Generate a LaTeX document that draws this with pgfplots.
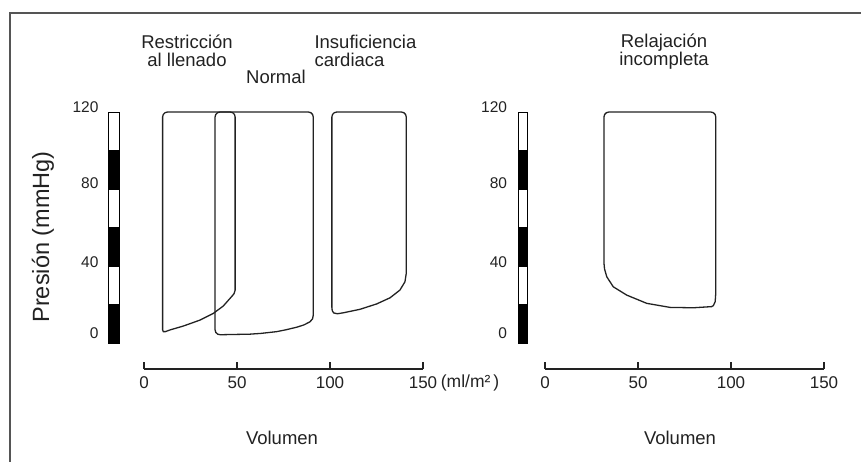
\documentclass[border=0pt]{standalone}
\usepackage{fontspec}
\setmainfont{Liberation Sans}
\usepackage{pgfplots}
\pgfplotsset{compat=1.18}

\definecolor{ink}{HTML}{222222}
\definecolor{framec}{HTML}{555555}

\pgfplotsset{
  pvaxis/.style={
    scale only axis, width=279pt, height=257pt,
    xmin=0, xmax=150, ymin=-13.5, ymax=120,
    axis x line*=bottom, axis y line=none,
    x axis line style={-, draw=ink, line width=1.2pt},
    xtick={0,50,100,150}, ytick=\empty,
    tick align=inside, major tick length=7pt,
    tick style={draw=ink, line width=1.2pt},
    xticklabel style={font=\fontsize{17}{17}\selectfont, text=ink, yshift=-4pt},
    /pgf/number format/assume math mode=true,
    clip=false, anchor=south west,
  },
  pvloop/.style={draw=ink, line width=1.3pt, no markers, sharp plot},
  seg/.style={draw=black, line width=0.8pt, no markers, sharp plot},
}
\tikzset{ylab/.style={anchor=east, font=\fontsize{15.5}{15}\selectfont, text=ink}}

\begin{document}
\begin{tikzpicture}[x=1pt,y=1pt]
\path[use as bounding box] (0,0) rectangle (861,462);

% left panel
\begin{axis}[pvaxis, at={(144pt,93pt)}]
  % pressure scale bar
  \addplot[seg, fill=white] coordinates {(-19.4,0) (-13.4,0) (-13.4,120) (-19.4,120)} --cycle;
  \addplot[seg, fill=black] coordinates {(-19.4,0) (-13.4,0) (-13.4,20) (-19.4,20)} --cycle;
  \addplot[seg, fill=black] coordinates {(-19.4,40) (-13.4,40) (-13.4,60) (-19.4,60)} --cycle;
  \addplot[seg, fill=black] coordinates {(-19.4,80) (-13.4,80) (-13.4,100) (-19.4,100)} --cycle;
  \node[ylab] at (axis cs:-22.6,122.5) {120};
  \node[ylab] at (axis cs:-22.6,83) {80};
  \node[ylab] at (axis cs:-22.6,42) {40};
  \node[ylab] at (axis cs:-22.6,5) {0};

  % restriccion al llenado
  \addplot[pvloop] coordinates {
    (10,8) (10,117.4) (10.36,118.7) (11.35,119.65) (12.7,120)
    (46.3,120) (47.65,119.65) (48.64,118.7) (49,117.4)
    (49,27.5) (48.4,25.6) (47.1,24.1) (42.6,19.2) (37.3,15.4) (30.1,11.9)
    (21.1,8.8) (14,6.8) (11.5,5.9) (10.4,5.9) (10,6.8)
  } --cycle;
  % normal
  \addplot[pvloop] coordinates {
    (38.2,10) (38.2,117.4) (38.56,118.7) (39.55,119.65) (40.9,120)
    (88.3,120) (89.65,119.65) (90.64,118.7) (91,117.4)
    (91,14.5) (90.6,12.5) (89.2,11) (86,9.4) (82.1,8.2) (76,6.8)
    (71.3,5.9) (63,5) (57,4.6) (41,4.3) (39.6,4.6) (38.6,5.5) (38.2,6.9)
  } --cycle;
  % insuficiencia cardiaca
  \addplot[pvloop] coordinates {
    (101,20) (101,117.4) (101.36,118.7) (102.35,119.65) (103.7,120)
    (138.3,120) (139.65,119.65) (140.64,118.7) (141,117.4)
    (141,36.2) (140.3,31.8) (137.6,27.5) (132.3,23.5) (125.1,20.3)
    (116.1,17.5) (107.2,15.7) (104,15.2) (102,15.6) (101.2,16.8) (101,18.5)
  } --cycle;
\end{axis}

% right panel
\begin{axis}[pvaxis, at={(545pt,93pt)}]
  \addplot[seg, fill=white] coordinates {(-14.5,0) (-9.7,0) (-9.7,120) (-14.5,120)} --cycle;
  \addplot[seg, fill=black] coordinates {(-14.5,0) (-9.7,0) (-9.7,20) (-14.5,20)} --cycle;
  \addplot[seg, fill=black] coordinates {(-14.5,40) (-9.7,40) (-9.7,60) (-14.5,60)} --cycle;
  \addplot[seg, fill=black] coordinates {(-14.5,80) (-9.7,80) (-9.7,100) (-14.5,100)} --cycle;
  \node[ylab] at (axis cs:-18.5,122.5) {120};
  \node[ylab] at (axis cs:-18.5,83) {80};
  \node[ylab] at (axis cs:-18.5,42) {40};
  \node[ylab] at (axis cs:-18.5,5) {0};

  % relajacion incompleta
  \addplot[pvloop] coordinates {
    (31.7,41.6) (31.7,117.4) (32.06,118.7) (33.05,119.65) (34.4,120)
    (89.1,120) (90.45,119.65) (91.44,118.7) (91.8,117.4)
    (91.8,25.8) (91.5,21.5) (90.5,19.4) (89.6,18.9) (79.7,18.3) (67.2,18.5)
    (54.7,20.6) (43.9,24.9) (36.7,29.2) (33.2,34.4) (32,38.5)
  } --cycle;
\end{axis}

% frame
\draw[framec, line width=2pt] (861,449) -- (10,449) -- (10,0);

% texts
\begin{scope}[every node/.style={text=ink, font=\fontsize{18.5}{18}\selectfont}]
  \node[align=center] at (187,411) {Restricción\\al llenado};
  \node at (276,385) {Normal};
  \node[anchor=west, align=left] at (311,411) {Insuficiencia\\cardiaca};
  \node[align=center] at (664,410) {Relajación\\incompleta};
  \node at (282,24) {Volumen};
  \node at (680,24) {Volumen};
  \node[font=\fontsize{17.5}{17}\selectfont] at (470,79) {(ml/m²\,)};
  \node[rotate=90, font=\fontsize{23.5}{24}\selectfont] at (43,225) {Presión (mmHg)};
\end{scope}
\end{tikzpicture}
\end{document}
